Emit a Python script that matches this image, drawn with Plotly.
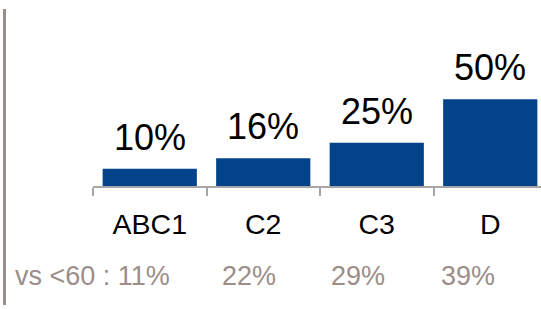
import plotly.graph_objects as go

categories = ["ABC1", "C2", "C3", "D"]
values = [10, 16, 25, 50]
value_labels = ["10%", "16%", "25%", "50%"]
comparison_prefix = "vs <60 : "
comparison_labels = ["11%", "22%", "29%", "39%"]

W, H = 541, 309
ML, MR, MT, MB = 93, 0, 0, 123
PW, PH = W - ML - MR, H - MT - MB

def px_x(px):
    return (px - ML) / PW

def px_y(py):
    return (H - MB - py) / PH

FONT = "Arial, Liberation Sans, sans-serif"
BLUE = "#034389"
GREY = "#9b8e89"

fig = go.Figure()
fig.add_trace(go.Bar(
    x=categories, y=values,
    marker=dict(color=BLUE, line=dict(width=0)),
    hoverinfo="skip",
))

annotations = []
for c, v, t in zip(categories, values, value_labels):
    annotations.append(dict(
        x=c, y=v, xref="x", yref="y", text=t, showarrow=False,
        yanchor="bottom", xanchor="center", yshift=9,
        font=dict(family=FONT, size=36, color="#000000"),
    ))

comp_x = [13, 249, 357.5, 467.5]
for i, t in enumerate(comparison_labels):
    txt = (comparison_prefix + t) if i == 0 else t
    annotations.append(dict(
        x=px_x(comp_x[i]), y=px_y(276), xref="paper", yref="paper",
        text=txt, showarrow=False,
        xanchor="left" if i == 0 else "center", yanchor="middle",
        font=dict(family=FONT, size=27, color=GREY),
    ))

fig.update_layout(
    width=W, height=H,
    margin=dict(l=ML, r=MR, t=MT, b=MB, pad=0),
    paper_bgcolor="white", plot_bgcolor="white",
    bargap=0.17,
    showlegend=False,
    annotations=annotations,
    shapes=[dict(
        type="line", xref="paper", yref="paper",
        x0=px_x(4.5), x1=px_x(4.5), y0=px_y(305), y1=px_y(9),
        line=dict(color=GREY, width=3),
    )],
    xaxis=dict(
        range=[-0.5, -0.5 + PW / 113.5],
        showline=True, linecolor="#a6a6a6", linewidth=2,
        ticks="outside", tickson="boundaries", ticklen=8, tickwidth=2,
        tickcolor="#a6a6a6", ticklabelstandoff=12,
        tickfont=dict(family=FONT, size=28.5, color="#000000"),
        showgrid=False, zeroline=False, fixedrange=True,
    ),
    yaxis=dict(
        range=[0, PH / 1.733],
        visible=False, showgrid=False, zeroline=False, fixedrange=True,
    ),
)

fig.write_html("out.html", config={"displayModeBar": False},
               post_script="document.body.style.margin='0';")
